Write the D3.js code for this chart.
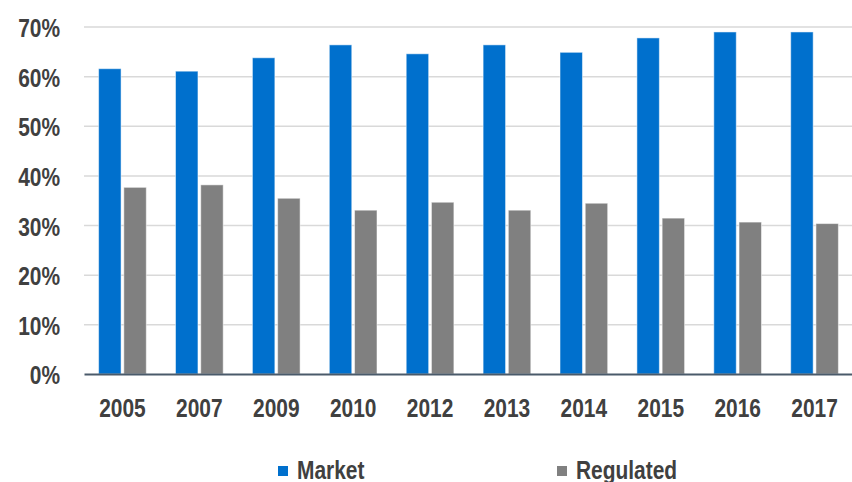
<!DOCTYPE html>
<html lang="en">
<head>
  <meta charset="UTF-8">
  <title>Market vs Regulated</title>
  <style>
    body { margin: 0; background: #fff; }
    svg text {
      font-family: 'Liberation Sans', Arial, sans-serif;
      font-weight: bold;
      font-size: 25.5px;
      fill: #404040;
    }
    .grid line { stroke: #d9d9d9; stroke-width: 1.5px; }
    .grid path { display: none; }
  </style>
  <script src="https://cdn.jsdelivr.net/npm/d3@7"></script>
</head>
<body>
<svg id="chart" width="852" height="482"></svg>
<script>
// data
const years = ["2005", "2007", "2009", "2010", "2012", "2013", "2014", "2015", "2016", "2017"];
const market = [61.5, 61.0, 63.7, 66.3, 64.5, 66.3, 64.8, 67.7, 68.9, 68.9];
const regulated = [37.6, 38.1, 35.4, 33.0, 34.6, 33.0, 34.4, 31.4, 30.6, 30.3];
const seriesNames = ["Market", "Regulated"];
const seriesColors = ["#0070cd", "#808080"];
const yTicks = [0, 10, 20, 30, 40, 50, 60, 70];

const svg = d3.select("#chart");
const plotLeft = 84, plotRight = 853, plotTop = 26.5, plotBottom = 374;

let x = d3.scaleBand()
  .domain(years)
  .range([plotLeft, plotRight])
  .paddingInner(0.38)
  .paddingOuter(0.19);

let xSub = d3.scaleBand()
  .domain(seriesNames)
  .range([0, x.bandwidth()])
  .paddingInner(0.11);

let y = d3.scaleLinear()
  .domain([0, 70])
  .range([plotBottom, plotTop]);

// gridlines
let grid = d3.axisLeft(y)
  .tickValues(yTicks.slice(1))
  .tickSize(-(plotRight - plotLeft))
  .tickFormat("");
svg.append("g")
  .attr("class", "grid")
  .attr("transform", `translate(${plotLeft},0)`)
  .call(grid);

// y labels
let yAxis = d3.axisLeft(y)
  .tickValues(yTicks)
  .tickSize(0)
  .tickPadding(24)
  .tickFormat(d => d + "%");
let yg = svg.append("g")
  .attr("transform", `translate(${plotLeft},0)`)
  .call(yAxis);
yg.select(".domain").remove();
yg.selectAll("text").attr("dy", "0.35em").attr("y", 1);

// bars
let rows = years.map((yr, i) => ({ year: yr, values: [market[i], regulated[i]] }));
let groups = svg.selectAll("g.year")
  .data(rows)
  .join("g")
  .attr("class", "year")
  .attr("transform", d => `translate(${x(d.year)},0)`);

groups.selectAll("rect")
  .data(d => d.values.map((v, j) => ({ name: seriesNames[j], value: v, color: seriesColors[j] })))
  .join("rect")
  .attr("x", d => xSub(d.name))
  .attr("width", xSub.bandwidth())
  .attr("y", d => y(d.value))
  .attr("height", d => y(0) - y(d.value))
  .attr("fill", d => d.color)
  .attr("stroke", "#ffffff")
  .attr("stroke-opacity", 0.5)
  .attr("stroke-width", 1);

// x axis
let xAxis = d3.axisBottom(x)
  .tickSize(0)
  .tickPadding(25);
let xg = svg.append("g")
  .attr("transform", `translate(0,${plotBottom})`)
  .call(xAxis);
xg.select(".domain")
  .attr("stroke", "#4a5a6a")
  .attr("stroke-width", 2);

// legend
const legendX = [278, 557];
let legend = svg.selectAll("g.legend")
  .data(seriesNames)
  .join("g")
  .attr("class", "legend")
  .attr("transform", (d, i) => `translate(${legendX[i]},466)`);
legend.append("rect")
  .attr("width", 10)
  .attr("height", 10)
  .attr("fill", (d, i) => seriesColors[i]);
legend.append("text")
  .attr("x", 19)
  .attr("y", 12.5)
  .text(d => d);

// the original uses a narrow bold face; squeeze the regular bold to match
svg.selectAll("text").each(function () {
  let w = this.getComputedTextLength();
  d3.select(this)
    .attr("textLength", w * 0.82)
    .attr("lengthAdjust", "spacingAndGlyphs");
});
</script>
</body>
</html>
